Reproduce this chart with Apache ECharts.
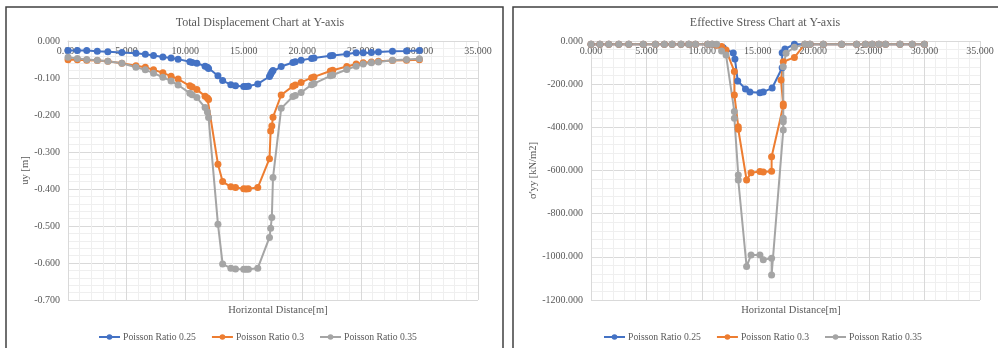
<!DOCTYPE html>
<html>
<head>
<meta charset="utf-8">
<script src="https://cdn.jsdelivr.net/npm/echarts@6/dist/echarts.min.js"></script>
<style>
  html, body { margin: 0; padding: 0; background: #ffffff; }
  #chart { width: 998px; height: 348px; }
</style>
</head>
<body>
<div id="chart"></div>
<script>
// Series labels
const seriesNames = ['Poisson Ratio 0.25', 'Poisson Ratio 0.3', 'Poisson Ratio 0.35'];
const seriesColors = ['#4472C4', '#ED7D31', '#A5A5A5'];

// Vertical displacement uy [m] along the horizontal section
const dispX = [0, 0.8, 1.6, 2.5, 3.4, 4.6, 5.8, 6.6, 7.3, 8.1, 8.8, 9.4, 10.4, 10.6, 11.0, 11.7, 11.9, 12.0,
  12.8, 13.2, 13.9, 14.3, 15.0, 15.2, 15.4, 16.2, 17.2, 17.3, 17.4, 17.5, 18.2, 19.2, 19.4, 19.9, 20.8, 21.0,
  22.4, 22.6, 23.8, 24.6, 25.2, 25.9, 26.5, 27.7, 28.9, 30.0];
const dispUy025 = [-0.026, -0.026, -0.026, -0.028, -0.029, -0.031, -0.033, -0.036, -0.039, -0.043, -0.046, -0.049,
  -0.056, -0.058, -0.060, -0.068, -0.071, -0.074, -0.094, -0.107, -0.118, -0.121, -0.123, -0.123, -0.122, -0.116,
  -0.096, -0.090, -0.084, -0.080, -0.069, -0.058, -0.056, -0.052, -0.047, -0.046, -0.040, -0.039, -0.035, -0.032,
  -0.032, -0.031, -0.030, -0.028, -0.027, -0.026];
const dispUy030 = [-0.051, -0.051, -0.052, -0.053, -0.055, -0.060, -0.067, -0.071, -0.078, -0.086, -0.095, -0.103,
  -0.121, -0.124, -0.131, -0.149, -0.154, -0.158, -0.333, -0.380, -0.394, -0.396, -0.399, -0.400, -0.399, -0.396,
  -0.318, -0.243, -0.230, -0.206, -0.146, -0.122, -0.119, -0.112, -0.099, -0.097, -0.081, -0.079, -0.069, -0.062,
  -0.059, -0.057, -0.055, -0.053, -0.052, -0.051];
const dispUy035 = [-0.044, -0.047, -0.050, -0.052, -0.055, -0.060, -0.071, -0.078, -0.087, -0.098, -0.108, -0.119,
  -0.141, -0.145, -0.153, -0.180, -0.192, -0.207, -0.495, -0.603, -0.614, -0.616, -0.617, -0.617, -0.617, -0.614,
  -0.531, -0.506, -0.477, -0.369, -0.182, -0.150, -0.147, -0.139, -0.118, -0.115, -0.094, -0.092, -0.077, -0.068,
  -0.062, -0.059, -0.057, -0.052, -0.050, -0.048];

// Effective vertical stress σ'yy [kN/m2] along the same section
const stressX025 = [0, 0.8, 1.6, 2.5, 3.4, 4.7, 5.8, 6.6, 7.3, 8.1, 8.8, 9.4, 10.5, 10.9, 11.3, 11.9, 12.8, 12.95,
  13.2, 13.9, 14.3, 15.2, 15.5, 16.3, 17.2, 17.2, 17.45, 18.3, 19.25, 19.7, 20.9, 22.55, 23.9, 24.7, 25.3, 25.9,
  26.5, 27.8, 28.9, 30.0];
const stressS025 = [-15, -15, -15, -15, -15, -15, -15, -15, -15, -15, -15, -15, -15, -15, -18, -31, -56, -83,
  -185, -222, -236, -240, -236, -218, -124, -54, -37, -15, -15, -15, -15, -15, -15, -15, -15, -15,
  -15, -15, -15, -15];

const stressX030 = [0, 0.8, 1.6, 2.5, 3.4, 4.7, 5.8, 6.6, 7.3, 8.1, 8.8, 9.4, 10.5, 10.9, 11.3, 11.75, 12.15,
  12.9, 12.9, 13.25, 13.25, 14.0, 14.4, 15.2, 15.5, 16.25, 16.25, 17.3, 17.3, 17.1, 17.3, 18.3, 19.25, 19.7,
  20.9, 22.55, 23.9, 24.7, 25.3, 25.9, 26.5, 27.8, 28.9, 30.0];
const stressS030 = [-15, -15, -15, -15, -15, -15, -15, -15, -15, -15, -15, -15, -15, -15, -20, -26, -42,
  -141, -250, -397, -409, -644, -610, -605, -607, -604, -536, -301, -292, -181, -96, -76, -15, -15,
  -15, -15, -15, -15, -15, -15, -15, -15, -15, -15];

const stressX035 = [0, 0.8, 1.6, 2.5, 3.4, 4.7, 5.8, 6.6, 7.3, 8.1, 8.8, 9.4, 10.5, 10.9, 11.3, 11.75, 12.15,
  12.9, 12.9, 13.25, 13.25, 14.0, 14.4, 15.2, 15.5, 16.25, 16.25, 17.3, 17.3, 17.3, 17.3, 17.55, 18.3, 19.25,
  19.7, 20.9, 22.55, 23.9, 24.7, 25.3, 25.9, 26.5, 27.8, 28.9, 30.0];
const stressS035 = [-15, -15, -15, -15, -15, -15, -15, -15, -15, -15, -15, -15, -15, -15, -15, -46, -65,
  -327, -358, -621, -644, -1045, -991, -991, -1014, -1006, -1084, -412, -374, -358, -119, -57, -29, -15,
  -15, -15, -15, -15, -15, -15, -15, -15, -15, -15, -15];

// Axis ranges and tick steps
const xRange = { min: 0, max: 35, step: 5 };
const dispRange = { min: -0.7, max: 0, step: 0.1 };
const stressRange = { min: -1200, max: 0, step: 200 };

const pairs = (xs, ys) => xs.map((x, i) => [x, ys[i]]);

const FONT = '"Liberation Serif", "Times New Roman", serif';
const TEXT = '#595959';

function xAxisFor(gridIndex) {
  return {
    gridIndex, type: 'value', position: 'top',
    min: xRange.min, max: xRange.max, interval: xRange.step,
    axisLine: { show: true, onZero: false, lineStyle: { color: '#d9d9d9', width: 1 } },
    axisTick: { show: false },
    axisLabel: { inside: true, margin: 5, color: TEXT, fontFamily: FONT, fontSize: 10,
      formatter: v => v.toFixed(3) },
    splitLine: { show: true, lineStyle: { color: '#d9d9d9', width: 1 } },
    minorTick: { show: false, splitNumber: 5 },
    minorSplitLine: { show: true, lineStyle: { color: '#efefef', width: 1 } }
  };
}

function yAxisFor(gridIndex, range, name, gap) {
  return {
    gridIndex, type: 'value',
    min: range.min, max: range.max, interval: range.step,
    name, nameLocation: 'middle', nameGap: gap, nameRotate: 90,
    nameTextStyle: { color: TEXT, fontFamily: FONT, fontSize: 10.5 },
    axisLine: { show: true, lineStyle: { color: '#d9d9d9', width: 1 } },
    axisTick: { show: false },
    axisLabel: { margin: 8, color: TEXT, fontFamily: FONT, fontSize: 10,
      formatter: v => v.toFixed(3) },
    splitLine: { show: true, lineStyle: { color: '#d9d9d9', width: 1 } },
    minorTick: { show: false, splitNumber: 5 },
    minorSplitLine: { show: true, lineStyle: { color: '#efefef', width: 1 } }
  };
}

function lineSeries(idx, axisIndex, data) {
  return {
    name: seriesNames[idx], type: 'line',
    xAxisIndex: axisIndex, yAxisIndex: axisIndex,
    data, color: seriesColors[idx],
    symbol: 'circle', symbolSize: 7, showSymbol: true,
    lineStyle: { width: 2, color: seriesColors[idx] },
    itemStyle: { color: seriesColors[idx] },
    animation: false
  };
}

const chart = echarts.init(document.getElementById('chart'), null, { renderer: 'canvas' });

const titleStyle = { color: TEXT, fontFamily: FONT, fontSize: 12, fontWeight: 'normal' };
const nameStyle = { color: TEXT, fontFamily: FONT, fontSize: 10.5, fontWeight: 'normal' };
const legendText = { color: TEXT, fontFamily: FONT, fontSize: 9.7, padding: [0, 0, 0, -2] };

chart.setOption({
  backgroundColor: '#ffffff',
  animation: false,
  title: [
    { text: 'Total Displacement Chart at Y-axis', left: 255, top: 12, textAlign: 'center', textStyle: titleStyle },
    { text: 'Effective Stress Chart at Y-axis', left: 760, top: 12, textAlign: 'center', textStyle: titleStyle },
    { text: 'Horizontal Distance[m]', left: 273, top: 300, textAlign: 'center', textStyle: nameStyle },
    { text: 'Horizontal Distance[m]', left: 786, top: 300, textAlign: 'center', textStyle: nameStyle }
  ],
  grid: [
    { left: 68, top: 41, width: 410, height: 259 },
    { left: 591, top: 41, width: 389, height: 259 }
  ],
  legend: [
    { data: seriesNames, left: 98, top: 332, padding: 0, itemWidth: 21, itemHeight: 7, itemGap: 15,
      textStyle: legendText },
    { data: seriesNames, left: 603, top: 332, padding: 0, itemWidth: 21, itemHeight: 7, itemGap: 15,
      textStyle: legendText }
  ],
  xAxis: [xAxisFor(0), xAxisFor(1)],
  yAxis: [
    yAxisFor(0, dispRange, 'uy [m]', 35),
    yAxisFor(1, stressRange, "σ'yy [kN/m2]", 50)
  ],
  series: [
    lineSeries(0, 0, pairs(dispX, dispUy025)),
    lineSeries(1, 0, pairs(dispX, dispUy030)),
    lineSeries(2, 0, pairs(dispX, dispUy035)),
    lineSeries(0, 1, pairs(stressX025, stressS025)),
    lineSeries(1, 1, pairs(stressX030, stressS030)),
    lineSeries(2, 1, pairs(stressX035, stressS035))
  ],
  graphic: [
    { type: 'rect', shape: { x: 6, y: 7, width: 497, height: 350 },
      style: { fill: 'none', stroke: '#404040', lineWidth: 1.5 }, z: 100 },
    { type: 'rect', shape: { x: 513, y: 7, width: 495, height: 350 },
      style: { fill: 'none', stroke: '#404040', lineWidth: 1.5 }, z: 100 }
  ]
});
</script>
</body>
</html>
